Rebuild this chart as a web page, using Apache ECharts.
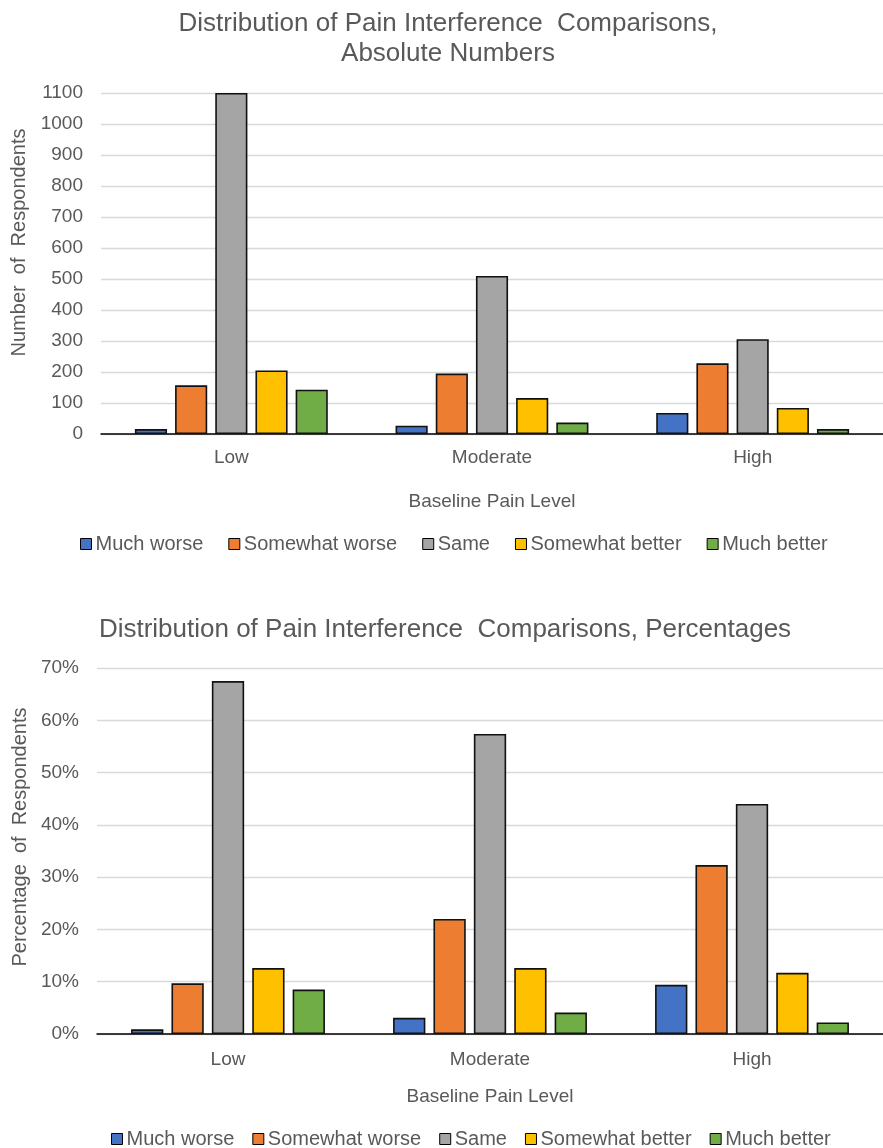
<!DOCTYPE html>
<html>
<head>
<meta charset="utf-8">
<script src="https://cdn.jsdelivr.net/npm/echarts@6/dist/echarts.min.js"></script>
<style>
html,body{margin:0;padding:0;background:#fff;}
#chart{width:883px;height:1148px;}
</style>
</head>
<body>
<div id="chart"></div>
<script>
const categories = ['Low', 'Moderate', 'High'];
const seriesNames = ['Much worse', 'Somewhat worse', 'Same', 'Somewhat better', 'Much better'];
const seriesColors = ['#4472C4', '#ED7D31', '#A5A5A5', '#FFC000', '#70AD47'];

// Absolute numbers
const countMuchWorse = [16, 27, 68];
const countSomewhatWorse = [157, 195, 228];
const countSame = [1100, 510, 306];
const countSomewhatBetter = [205, 116, 84];
const countMuchBetter = [143, 37, 16];

// Percentages
const pctMuchWorse = [0.9, 3.1, 9.4];
const pctSomewhatWorse = [9.7, 22.0, 32.3];
const pctSame = [67.5, 57.4, 44.0];
const pctSomewhatBetter = [12.6, 12.6, 11.7];
const pctMuchBetter = [8.5, 4.1, 2.2];

const countTicks = { min: 0, max: 1100, interval: 100 };
const pctTicks = { min: 0, max: 70, interval: 10 };

const titleTop = 'Distribution of Pain Interference  Comparisons,\nAbsolute Numbers';
const titleBottom = 'Distribution of Pain Interference  Comparisons, Percentages';
const xName = 'Baseline Pain Level';
const yNameTop = 'Number  of  Respondents';
const yNameBottom = 'Percentage  of  Respondents';

const countData = [countMuchWorse, countSomewhatWorse, countSame, countSomewhatBetter, countMuchBetter];
const pctData = [pctMuchWorse, pctSomewhatWorse, pctSame, pctSomewhatBetter, pctMuchBetter];

const FONT = '"Liberation Sans", Arial, sans-serif';
const TXT = '#595959';

function makeSeries(dataArr, idx) {
  return dataArr.map((d, i) => ({
    name: seriesNames[i],
    type: 'bar',
    xAxisIndex: idx,
    yAxisIndex: idx,
    data: d,
    barGap: '25%',
    barCategoryGap: '26%',
    itemStyle: { color: seriesColors[i], borderColor: '#111', borderWidth: 1.6 },
    emphasis: { disabled: true },
    animation: false
  }));
}

function xAxisCfg(idx, labelMargin, nameGap) {
  return {
    type: 'category',
    gridIndex: idx,
    data: categories,
    axisTick: { show: false },
    axisLine: { lineStyle: { color: '#000', width: 1.5 } },
    axisLabel: { color: TXT, fontSize: 19, fontFamily: FONT, margin: labelMargin },
    name: xName,
    nameLocation: 'middle',
    nameGap: nameGap,
    nameTextStyle: { color: TXT, fontSize: 19, fontFamily: FONT }
  };
}

function yAxisCfg(idx, ticks, fmt, name, pad, nameGap) {
  return {
    type: 'value',
    gridIndex: idx,
    min: ticks.min,
    max: ticks.max,
    interval: ticks.interval,
    axisLine: { show: false },
    axisTick: { show: false },
    splitLine: { lineStyle: { color: '#d9d9d9', width: 1.3 } },
    axisLabel: { color: TXT, fontSize: 19, fontFamily: FONT, margin: 18, formatter: fmt },
    name: name,
    nameLocation: 'middle',
    nameGap: nameGap,
    nameRotate: 90,
    nameTextStyle: { color: TXT, fontSize: 20, fontFamily: FONT, padding: pad }
  };
}

function legendCfg(top, left, gap) {
  return {
    data: seriesNames,
    top: top,
    left: left,
    padding: 0,
    itemGap: gap,
    itemWidth: 11,
    itemHeight: 11,
    icon: 'rect',
    itemStyle: { borderColor: '#000', borderWidth: 1 },
    textStyle: { color: TXT, fontSize: 20, fontFamily: FONT, padding: [0, 0, 0, -1] },
    selectedMode: false
  };
}

const chart = echarts.init(document.getElementById('chart'), null, { renderer: 'canvas' });
chart.setOption({
  backgroundColor: '#fff',
  animation: false,
  title: [
    {
      text: titleTop, left: 448, top: 9, textAlign: 'center', padding: 0,
      textStyle: { color: TXT, fontSize: 26, fontWeight: 'normal', fontFamily: FONT, lineHeight: 30 }
    },
    {
      text: titleBottom, left: 445, top: 615, textAlign: 'center', padding: 0,
      textStyle: { color: TXT, fontSize: 26, fontWeight: 'normal', fontFamily: FONT, lineHeight: 30 }
    }
  ],
  legend: [legendCfg(534, 80, 25), legendCfg(1129, 111, 18)],
  grid: [
    { left: 101, top: 93, width: 793, height: 341 },
    { left: 97, top: 668, width: 793, height: 366 }
  ],
  xAxis: [xAxisCfg(0, 14, 58), xAxisCfg(1, 16, 53)],
  yAxis: [
    yAxisCfg(0, countTicks, function (v) { return String(v); }, yNameTop, [0, 0, 0, 42], 70),
    yAxisCfg(1, pctTicks, function (v) { return v + '%'; }, yNameBottom, [0, 0, 0, 28], 63)
  ],
  series: makeSeries(countData, 0).concat(makeSeries(pctData, 1))
});
</script>
</body>
</html>
